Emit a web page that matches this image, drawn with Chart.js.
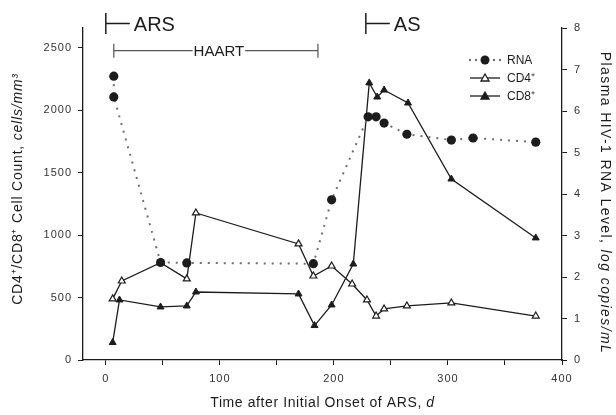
<!DOCTYPE html>
<html>
<head>
<meta charset="utf-8">
<script src="https://cdn.jsdelivr.net/npm/chart.js@4.4.1/dist/chart.umd.min.js"></script>
<style>
  html, body { margin: 0; padding: 0; background: #fff; }
  #wrap { width: 616px; height: 415px; }
</style>
</head>
<body>
<div id="wrap"><canvas id="myChart" width="616" height="415"></canvas></div>
<script>
// DATA
const rnaDays = [7, 7, 48, 71, 182, 198, 230, 237, 244, 264, 303, 322, 377];
const rnaLog = [6.84, 6.34, 2.35, 2.34, 2.32, 3.86, 5.86, 5.86, 5.71, 5.44, 5.3, 5.35, 5.25];
const cd4Days = [6, 14, 48, 71, 79, 169, 182, 198, 216, 229, 237, 244, 264, 303, 377];
const cd4Count = [490, 633, 780, 650, 1178, 930, 673, 753, 609, 481, 352, 409, 433, 457, 352];
const cd8Days = [6, 12, 48, 71, 79, 169, 183, 198, 217, 231, 238, 244, 265, 303, 377];
const cd8Count = [140, 481, 425, 433, 545, 529, 276, 441, 769, 2220, 2107, 2163, 2059, 1450, 978];

// TICKS
const dayTicks = [0, 50, 100, 150, 200, 250, 300, 350, 400];
const dayLabels = [0, 100, 200, 300, 400];
const countTicks = [0, 500, 1000, 1500, 2000, 2500];
const logTicks = [0, 1, 2, 3, 4, 5, 6, 7, 8];

// periods shown above the plot
const arsStart = 0;
const haartStart = 7;
const haartEnd = 186;
const asStart = 228;

const ink = "#1c1c1c";
const dotGray = "#707070";
const fontName = "'Liberation Sans', Arial, sans-serif";

// BUILD POINTS
function toPoints(xs, ys) {
  return xs.map((x, i) => ({ x: x, y: ys[i] }));
}

// SET FIXED TICKS
function fixedTicks(values) {
  return (scale) => {
    scale.ticks = values.map((v) => ({ value: v }));
  };
}

// DRAW TEXT MADE OF NORMAL + ITALIC PARTS, CENTERED
function drawMixed(ctx, parts, cx, cy, size, spacing) {
  ctx.letterSpacing = spacing + "px";
  let total = 0;
  parts.forEach((p) => {
    ctx.font = (p.italic ? "italic " : "") + size + "px " + fontName;
    p.w = ctx.measureText(p.text).width;
    total += p.w;
  });
  let x = cx - total / 2;
  parts.forEach((p) => {
    ctx.font = (p.italic ? "italic " : "") + size + "px " + fontName;
    ctx.fillText(p.text, x, cy);
    x += p.w;
  });
  ctx.letterSpacing = "0px";
}

const extrasPlugin = {
  id: "extras",
  beforeDraw(chart) {
    // scanned figure has wide-set tick digits
    chart.ctx.letterSpacing = "1px";
  },
  beforeDatasetsDraw(chart) {
    chart.ctx.letterSpacing = "0px";
  },
  afterDraw(chart) {
    const ctx = chart.ctx;
    const xs = chart.scales.x;
    const ys = chart.scales.y;
    const area = chart.chartArea;
    ctx.save();
    ctx.fillStyle = ink;
    ctx.strokeStyle = ink;
    ctx.textBaseline = "middle";
    ctx.textAlign = "left";

    // AXIS TITLES
    drawMixed(ctx, [{ text: "Time after Initial Onset of ARS, " }, { text: "d", italic: true }],
      (area.left + area.right) / 2, 403, 14, 0.6);

    ctx.save();
    ctx.translate(18, 189);
    ctx.rotate(-Math.PI / 2);
    drawMixed(ctx, [{ text: "CD4\u207A/CD8\u207A Cell Count, " }, { text: "cells/mm\u00B3", italic: true }], 0, 0, 14, 0.8);
    ctx.restore();

    ctx.save();
    ctx.translate(605, 203);
    ctx.rotate(Math.PI / 2);
    drawMixed(ctx, [{ text: "Plasma HIV-1 RNA Level, " }, { text: "log copies/mL", italic: true }], 0, 0, 14, 1.4);
    ctx.restore();

    // ARS / AS BRACKETS
    ctx.lineWidth = 1.5;
    [[arsStart, "ARS"], [asStart, "AS"]].forEach(([day, label]) => {
      const px = xs.getPixelForValue(day);
      ctx.beginPath();
      ctx.moveTo(px, 13);
      ctx.lineTo(px, 34);
      ctx.moveTo(px, 23.5);
      ctx.lineTo(px + 24, 23.5);
      ctx.stroke();
      ctx.font = "20px " + fontName;
      ctx.fillText(label, px + 28, 25);
    });

    // HAART BRACKET
    const h0 = xs.getPixelForValue(haartStart);
    const h1 = xs.getPixelForValue(haartEnd);
    const hy = ys.getPixelForValue(2478);
    ctx.font = "15px " + fontName;
    const tw = ctx.measureText("HAART").width;
    const tc = (h0 + h1) / 2 + 3;
    ctx.strokeStyle = "#555";
    ctx.lineWidth = 1.2;
    ctx.beginPath();
    ctx.moveTo(h0, hy - 7);
    ctx.lineTo(h0, hy + 7);
    ctx.moveTo(h1, hy - 7);
    ctx.lineTo(h1, hy + 7);
    ctx.moveTo(h0, hy);
    ctx.lineTo(tc - tw / 2 - 1, hy);
    ctx.moveTo(tc + tw / 2 + 1, hy);
    ctx.lineTo(h1, hy);
    ctx.stroke();
    ctx.textAlign = "center";
    ctx.fillText("HAART", tc, hy + 1);

    // LEGEND
    const lx = area.right - 92;
    const rows = [
      { label: "RNA", y: 60 },
      { label: "CD4\u207A", y: 78 },
      { label: "CD8\u207A", y: 96 },
    ];
    ctx.textAlign = "left";
    ctx.font = "12px " + fontName;
    rows.forEach((r, i) => {
      if (i === 0) {
        ctx.fillStyle = dotGray;
        [lx, lx + 6, lx + 24, lx + 30].forEach((dx) => {
          ctx.beginPath();
          ctx.arc(dx, r.y, 1.2, 0, Math.PI * 2);
          ctx.fill();
        });
        ctx.fillStyle = ink;
        ctx.beginPath();
        ctx.arc(lx + 15, r.y, 4.5, 0, Math.PI * 2);
        ctx.fill();
      } else {
        ctx.strokeStyle = ink;
        ctx.lineWidth = 1.3;
        ctx.beginPath();
        ctx.moveTo(lx, r.y);
        ctx.lineTo(lx + 30, r.y);
        ctx.stroke();
        ctx.beginPath();
        ctx.moveTo(lx + 15, r.y - 4);
        ctx.lineTo(lx + 19, r.y + 3);
        ctx.lineTo(lx + 11, r.y + 3);
        ctx.closePath();
        ctx.fillStyle = i === 1 ? "#fff" : ink;
        ctx.fill();
        ctx.stroke();
      }
      ctx.fillStyle = ink;
      ctx.fillText(r.label, lx + 37, r.y + 1);
    });
    ctx.restore();
  },
};

const ctx = document.getElementById("myChart").getContext("2d");

const tickFont = { family: fontName, size: 11 };

const myChartObj = new Chart(ctx, {
  type: "scatter",
  data: {
    datasets: [
      {
        label: "RNA",
        data: toPoints(rnaDays, rnaLog),
        yAxisID: "y1",
        showLine: true,
        borderColor: dotGray,
        borderWidth: 2,
        borderDash: [2, 6],
        pointStyle: "circle",
        pointRadius: 4.6,
        pointBackgroundColor: ink,
        pointBorderColor: ink,
        pointBorderWidth: 0,
      },
      {
        label: "CD4+",
        data: toPoints(cd4Days, cd4Count),
        yAxisID: "y",
        showLine: true,
        borderColor: ink,
        borderWidth: 1.3,
        pointStyle: "triangle",
        pointRadius: 4,
        pointBackgroundColor: "#fff",
        pointBorderColor: ink,
        pointBorderWidth: 1.2,
      },
      {
        label: "CD8+",
        data: toPoints(cd8Days, cd8Count),
        yAxisID: "y",
        showLine: true,
        borderColor: ink,
        borderWidth: 1.3,
        pointStyle: "triangle",
        pointRadius: 4,
        pointBackgroundColor: ink,
        pointBorderColor: ink,
        pointBorderWidth: 1,
      },
    ],
  },
  options: {
    responsive: false,
    animation: false,
    layout: { padding: { top: 28, left: 0, right: 0, bottom: 0 } },
    plugins: {
      legend: { display: false },
      tooltip: { enabled: false },
    },
    scales: {
      x: {
        type: "linear",
        min: -20,
        max: 400,
        afterBuildTicks: fixedTicks(dayTicks),
        ticks: {
          autoSkip: false,
          maxRotation: 0,
          padding: 7,
          color: "#333",
          font: tickFont,
          callback: (v) => (dayLabels.includes(v) ? String(v) : ""),
        },
        grid: { drawOnChartArea: false, tickLength: 5, color: ink, lineWidth: 1 },
        border: { color: ink, width: 1.3 },
        afterFit: (s) => { s.height = 55; },
      },
      y: {
        position: "left",
        min: 0,
        max: 2660,
        afterBuildTicks: fixedTicks(countTicks),
        ticks: {
          autoSkip: false,
          padding: 6,
          color: "#333",
          font: tickFont,
          callback: (v) => String(v),
        },
        grid: { drawOnChartArea: false, tickLength: 5, color: ink, lineWidth: 1 },
        border: { color: ink, width: 1.3 },
        afterFit: (s) => { s.width = 83; },
      },
      y1: {
        position: "right",
        min: 0,
        max: 8,
        afterBuildTicks: fixedTicks(logTicks),
        ticks: {
          autoSkip: false,
          padding: 7,
          color: "#333",
          font: tickFont,
          callback: (v) => String(v),
        },
        grid: { drawOnChartArea: false, tickLength: 5, color: ink, lineWidth: 1 },
        border: { color: ink, width: 1.3 },
        afterFit: (s) => { s.width = 54; },
      },
    },
  },
  plugins: [extrasPlugin],
});
</script>
</body>
</html>
